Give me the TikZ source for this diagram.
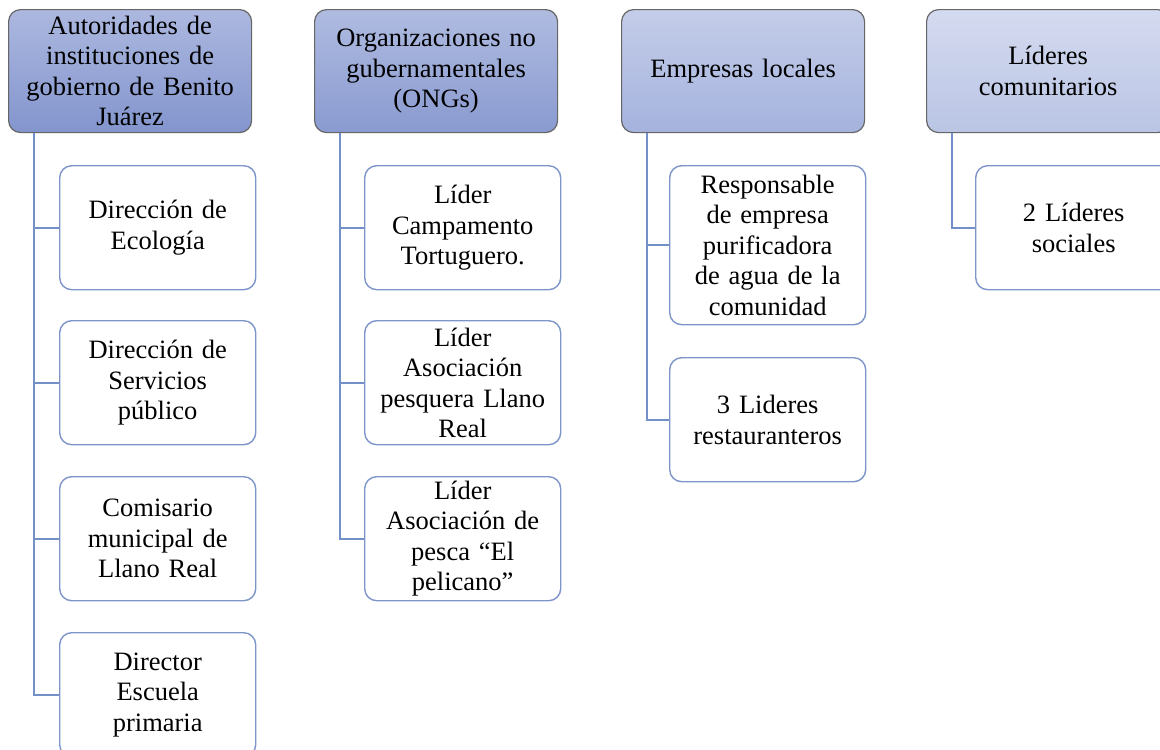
\documentclass[tikz,border=0pt]{standalone}
\usepackage{fontspec}
\setmainfont{Liberation Serif}
\begin{document}
\begin{tikzpicture}[x=1pt,y=-1pt,
  box/.style={rounded corners=12pt, anchor=north west, align=center, inner sep=0pt,
    font=\fontsize{26.5}{30.5}\selectfont},
  parentbox/.style={box, draw=black!60, line width=1.2pt, minimum width=243pt, minimum height=123pt, text width=238pt},
  childbox/.style={box, draw=cb, line width=1.4pt, fill=white, minimum width=196pt, minimum height=124pt, text width=192pt},
  conn/.style={draw=cn, line width=2pt}]
\definecolor{cb}{HTML}{7D95C8}
\definecolor{cn}{HTML}{7391C8}
\useasboundingbox (0,0) rectangle (1160,750);
\clip (0,0) rectangle (1160,750);
% parents
\node[parentbox, top color={rgb,255:red,172;green,184;blue,223}, bottom color={rgb,255:red,131;green,149;blue,206}] (p1) at (8,9) {Autoridades de\\instituciones de\\gobierno de Benito\\Juárez};
\node[parentbox, top color={rgb,255:red,175;green,187;blue,224}, bottom color={rgb,255:red,137;green,154;blue,208}] (p2) at (314,9) {Organizaciones no\\gubernamentales\\(ONGs)};
\node[parentbox, top color={rgb,255:red,196;green,205;blue,233}, bottom color={rgb,255:red,164;green,178;blue,221}] (p3) at (621,9) {Empresas locales};
\node[parentbox, top color={rgb,255:red,212;green,218;blue,239}, bottom color={rgb,255:red,186;green,197;blue,229}] (p4) at (926,9) {Líderes\\comunitarios};
% column 1
\node[childbox] (c11) at (59,165) {Dirección de\\Ecología};
\node[childbox] (c12) at (59,320) {Dirección de\\Servicios\\público};
\node[childbox] (c13) at (59,476) {Comisario\\municipal de\\Llano Real};
\node[childbox] (c14) at (59,632) {Director\\Escuela\\primaria};
% column 2
\node[childbox] (c21) at (364,165) {Líder\\Campamento\\Tortuguero.};
\node[childbox] (c22) at (364,320) {Líder\\Asociación\\pesquera Llano\\Real};
\node[childbox] (c23) at (364,476) {Líder\\Asociación de\\pesca “El\\pelicano”};
% column 3
\node[childbox, minimum height=159pt] (c31) at (669,165) {Responsable\\de empresa\\purificadora\\de agua de la\\comunidad};
\node[childbox] (c32) at (669,357) {3 Lideres\\restauranteros};
% column 4
\node[childbox] (c41) at (975,165) {2 Líderes\\sociales};
% connectors
\foreach \c in {c11,c12,c13,c14} \draw[conn] ([xshift=26pt]p1.south west) |- (\c.west);
\foreach \c in {c21,c22,c23} \draw[conn] ([xshift=26pt]p2.south west) |- (\c.west);
\foreach \c in {c31,c32} \draw[conn] ([xshift=26pt]p3.south west) |- (\c.west);
\draw[conn] ([xshift=26pt]p4.south west) |- (c41.west);
\end{tikzpicture}
\end{document}
